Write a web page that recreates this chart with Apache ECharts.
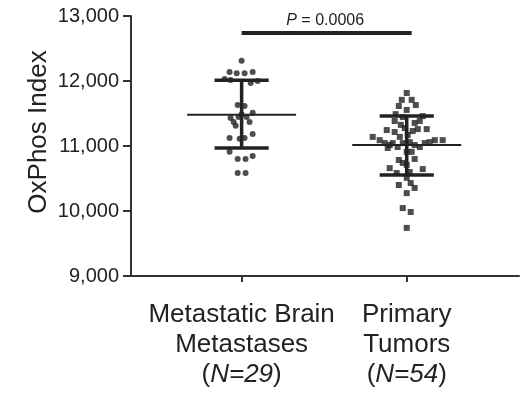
<!DOCTYPE html>
<html>
<head>
<meta charset="utf-8">
<script src="https://cdn.jsdelivr.net/npm/echarts@6/dist/echarts.min.js"></script>
<style>
html, body { margin: 0; padding: 0; background: #fff; }
#chart { width: 530px; height: 393px; }
</style>
</head>
<body>
<div id="chart"></div>
<script>
// group labels and summary stats
var groupNames = ['Metastatic Brain\nMetastases\n({i|N=29})', 'Primary\nTumors\n({i|N=54})'];
var groupPos = [1, 2];
var means = [11480, 11015];
var sdUpper = [12010, 11460];
var sdLower = [10970, 10555];
var yTicks = [9000, 10000, 11000, 12000, 13000];
var yTitle = 'OxPhos Index';
var pText = '0.0006';
var pBarY = 12740;

// metastatic brain metastases (circles)
var metX = [1.000, 0.927, 0.970, 1.018, 1.067, 0.897, 0.933, 1.055, 1.097, 0.976,
            1.018, 0.933, 0.952, 0.982, 1.030, 1.067, 1.048, 1.000, 0.964, 0.927,
            0.988, 1.018, 1.067, 0.927, 0.976, 1.024, 1.067, 0.976, 1.024];
var metY = [12310, 12140, 12120, 12120, 12140, 12030, 12015, 11970, 12000, 11630,
            11615, 11430, 11370, 11445, 11445, 11510, 11370, 11490, 11310, 11125,
            11110, 11125, 11185, 10910, 10800, 10800, 10845, 10585, 10585];

// primary tumors (squares)
var priX = [2.000, 1.970, 2.030, 1.952, 2.055, 2.000, 1.933, 1.976, 2.097, 1.879,
            1.927, 1.964, 2.048, 2.067, 2.121, 1.794, 2.218, 1.836, 1.867, 1.897,
            1.915, 1.945, 1.976, 2.018, 2.048, 2.079, 2.109, 2.139, 2.170, 1.958,
            2.006, 1.952, 2.048, 1.897, 1.939, 2.018, 2.097, 1.952, 2.024, 2.048,
            2.000, 1.976, 2.024, 2.000, 2.000, 1.976, 2.030, 2.000, 1.927, 2.079,
            1.988, 1.885, 2.036, 2.000];
var priY = [11815, 11710, 11710, 11615, 11630, 11555, 11490, 11445, 11460, 11245,
            11215, 11325, 11355, 11260, 11260, 11140, 11090, 11090, 11045, 11015,
            11045, 10985, 11045, 11060, 11015, 10985, 11045, 11060, 11090, 11140,
            11170, 10785, 10800, 10660, 10585, 10600, 10645, 10400, 10430, 10355,
            10275, 10045, 9985, 9740, 10910, 10740, 10910, 10710, 11385, 11385,
            11275, 10970, 11230, 10510];

var FONT = '"Liberation Sans", Arial, Helvetica, sans-serif';
var INK = '#222';

function zip(xs, ys) {
	var out = [];
	for (var i = 0; i < xs.length; i++) out.push([xs[i], ys[i]]);
	return out;
}

function lineSeries(data, width) {
	return {
		type: 'line',
		data: data,
		symbol: 'none',
		silent: true,
		z: 5,
		lineStyle: { color: INK, width: width }
	};
}

var series = [{
	type: 'scatter',
	data: zip(metX, metY),
	symbol: 'circle',
	symbolSize: 6,
	itemStyle: { color: INK }
}, {
	type: 'scatter',
	data: zip(priX, priY),
	symbol: 'rect',
	symbolSize: 6,
	itemStyle: { color: INK }
}];

// mean and SD bars
for (var g = 0; g < groupPos.length; g++) {
	var c = groupPos[g];
	series.push(lineSeries([[c - 0.33, means[g]], [c + 0.33, means[g]]], 2));
	series.push(lineSeries([[c - 0.164, sdUpper[g]], [c + 0.164, sdUpper[g]]], 3.5));
	series.push(lineSeries([[c - 0.164, sdLower[g]], [c + 0.164, sdLower[g]]], 3.5));
	series.push(lineSeries([[c, sdUpper[g]], [c, sdLower[g]]], 3.5));
}
// significance bar
series.push(lineSeries([[1.0, pBarY], [2.03, pBarY]], 4));

var chart = echarts.init(document.getElementById('chart'));
chart.setOption({
	animation: false,
	grid: { left: 131, right: 11, top: 16, bottom: 117, containLabel: false },
	xAxis: {
		type: 'value',
		min: 0.33,
		max: 2.68,
		splitLine: { show: false },
		axisLine: { lineStyle: { color: '#333', width: 2 } },
		axisTick: { show: true, length: 6, customValues: groupPos, lineStyle: { color: '#333', width: 2 } },
		axisLabel: {
			customValues: groupPos,
			margin: 24,
			fontSize: 26,
			lineHeight: 30,
			color: INK,
			fontFamily: FONT,
			align: 'center',
			formatter: function (v) { return groupNames[Math.round(v) - 1]; },
			rich: {
				i: { fontSize: 26, lineHeight: 30, fontStyle: 'italic', color: INK, fontFamily: FONT }
			}
		}
	},
	yAxis: {
		type: 'value',
		min: yTicks[0],
		max: yTicks[yTicks.length - 1],
		interval: 1000,
		splitLine: { show: false },
		axisLine: { show: true, lineStyle: { color: '#333', width: 2 } },
		axisTick: { show: true, length: 8, lineStyle: { color: '#333', width: 2 } },
		axisLabel: {
			margin: 12,
			fontSize: 20,
			color: INK,
			fontFamily: FONT,
			formatter: function (v) { return v.toLocaleString('en-US'); }
		}
	},
	series: series
});

// y title and P-value text
var mid = chart.convertToPixel({ gridIndex: 0 }, [1.5, pBarY]);
chart.setOption({
	graphic: [{
		type: 'text',
		x: 39,
		y: 132,
		rotation: Math.PI / 2,
		style: {
			text: yTitle,
			align: 'center',
			verticalAlign: 'middle',
			fontSize: 26,
			fontFamily: FONT,
			fill: INK
		}
	}, {
		type: 'text',
		x: mid[0] + 1,
		y: mid[1] - 12,
		style: {
			text: '{i|P} = ' + pText,
			align: 'center',
			verticalAlign: 'middle',
			fontSize: 16,
			fontFamily: FONT,
			fill: INK,
			rich: { i: { fontStyle: 'italic', fontSize: 16, fontFamily: FONT, fill: INK } }
		}
	}]
});
</script>
</body>
</html>
